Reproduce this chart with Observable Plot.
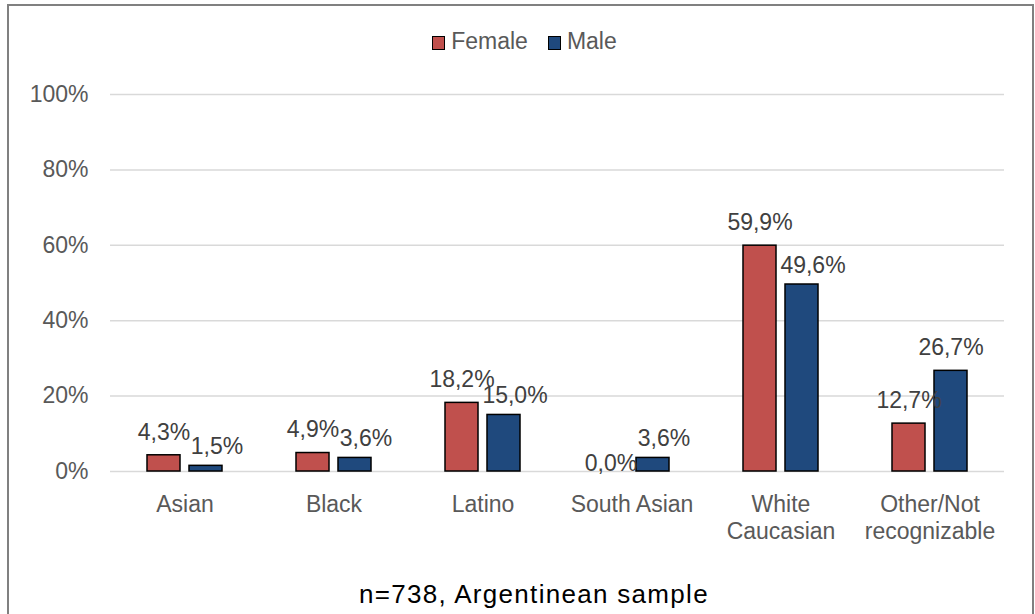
<!DOCTYPE html>
<html>
<head>
<meta charset="utf-8">
<script src="https://cdn.jsdelivr.net/npm/d3@7"></script>
<script src="https://cdn.jsdelivr.net/npm/@observablehq/plot@0.6"></script>
<style>
  html, body { margin: 0; padding: 0; background: #fff; width: 1035px; height: 614px; overflow: hidden;
    font-family: "Liberation Sans", Arial, sans-serif; }
  #frame { position: absolute; left: 7px; top: 4px; width: 1027px; height: 700px; box-sizing: border-box;
    border: 2px solid #808080; }
  #legend { position: absolute; top: 30px; left: 0; width: 1049px; height: 23px; display: flex;
    justify-content: center; align-items: center; font-size: 23px; line-height: 23px; color: #595959; }
  .item { display: flex; align-items: center; margin: 0 10px; }
  .sw { display: inline-block; width: 11px; height: 12px; border: 1.5px solid #000; margin-right: 6px;
    position: relative; top: 1px; }
  #chart { position: absolute; left: 0; top: 0; }
  #caption { position: absolute; top: 581px; left: 0; width: 1068px; text-align: center; font-size: 26px;
    line-height: 26px; color: #000; letter-spacing: 1.3px; }
</style>
</head>
<body>
<div id="frame"></div>
<div id="chart"></div>
<div id="legend"></div>
<div id="caption"></div>
<script>
const categories = ["Asian", "Black", "Latino", "South Asian", "White Caucasian", "Other/Not recognizable"];
const categoryLabels = ["Asian", "Black", "Latino", "South Asian", "White\nCaucasian", "Other/Not\nrecognizable"];
const series = ["Female", "Male"];
const female = [4.3, 4.9, 18.2, 0.0, 59.9, 12.7];
const male = [1.5, 3.6, 15.0, 3.6, 49.6, 26.7];
const colors = ["#C0504D", "#1F497D"];
const yTicks = [0, 20, 40, 60, 80, 100];
const captionText = "n=738, Argentinean sample";

const data = categories.flatMap((c, i) => [
  {cat: c, sex: "Female", value: female[i], other: male[i]},
  {cat: c, sex: "Male", value: male[i], other: female[i]}
]);
const fmt = v => v.toFixed(1).replace(".", ",") + "%";
// male labels nudged right when they would collide with the female bar/label
const nudged = d => d.sex === "Male" && d.other >= d.value - 4;
// labels of empty bars sit on the baseline
const zero = d => d.value === 0;

const chart = Plot.plot({
  width: 1035,
  height: 560,
  marginTop: 94,
  marginBottom: 89,
  marginLeft: 108,
  marginRight: 30,
  style: {fontFamily: "Liberation Sans, Arial, sans-serif", fontSize: "23px", background: "transparent", overflow: "visible"},
  fx: {domain: categories, padding: 0, label: null},
  x: {domain: series, paddingInner: 0.21, paddingOuter: 0.84, axis: null},
  y: {domain: [0, 100], axis: null},
  color: {domain: series, range: colors},
  marks: [
    Plot.gridY(yTicks, {stroke: "#d9d9d9", strokeOpacity: 1, strokeWidth: 1.5}),
    Plot.axisY(yTicks, {tickSize: 0, tickPadding: 22, tickFormat: d => d + "%", fill: "#595959", fontSize: 23, label: null}),
    Plot.axisFx({anchor: "bottom", tickSize: 0, tickPadding: 21, lineHeight: 1.17,
      tickFormat: d => categoryLabels[categories.indexOf(d)], fill: "#595959", fontSize: 23, label: null}),
    Plot.barY(data, {fx: "cat", x: "sex", y: "value", fill: "sex", stroke: "#000", strokeWidth: 1.5}),
    Plot.text(data.filter(d => !nudged(d) && !zero(d)), {fx: "cat", x: "sex", y: "value", text: d => fmt(d.value),
      dy: -23, fill: "#404040", fontSize: 23}),
    Plot.text(data.filter(zero), {fx: "cat", x: "sex", y: "value", text: d => fmt(d.value),
      dy: -8, fill: "#404040", fontSize: 23}),
    Plot.text(data.filter(nudged), {fx: "cat", x: "sex", y: "value", text: d => fmt(d.value),
      dx: 11, dy: -19, fill: "#404040", fontSize: 23})
  ]
});
document.getElementById("chart").appendChild(chart);

const legend = document.getElementById("legend");
series.forEach((s, i) => {
  const item = document.createElement("div");
  item.className = "item";
  const sw = document.createElement("span");
  sw.className = "sw";
  sw.style.background = colors[i];
  const t = document.createElement("span");
  t.textContent = s;
  item.appendChild(sw);
  item.appendChild(t);
  legend.appendChild(item);
});
document.getElementById("caption").textContent = captionText;
</script>
</body>
</html>
